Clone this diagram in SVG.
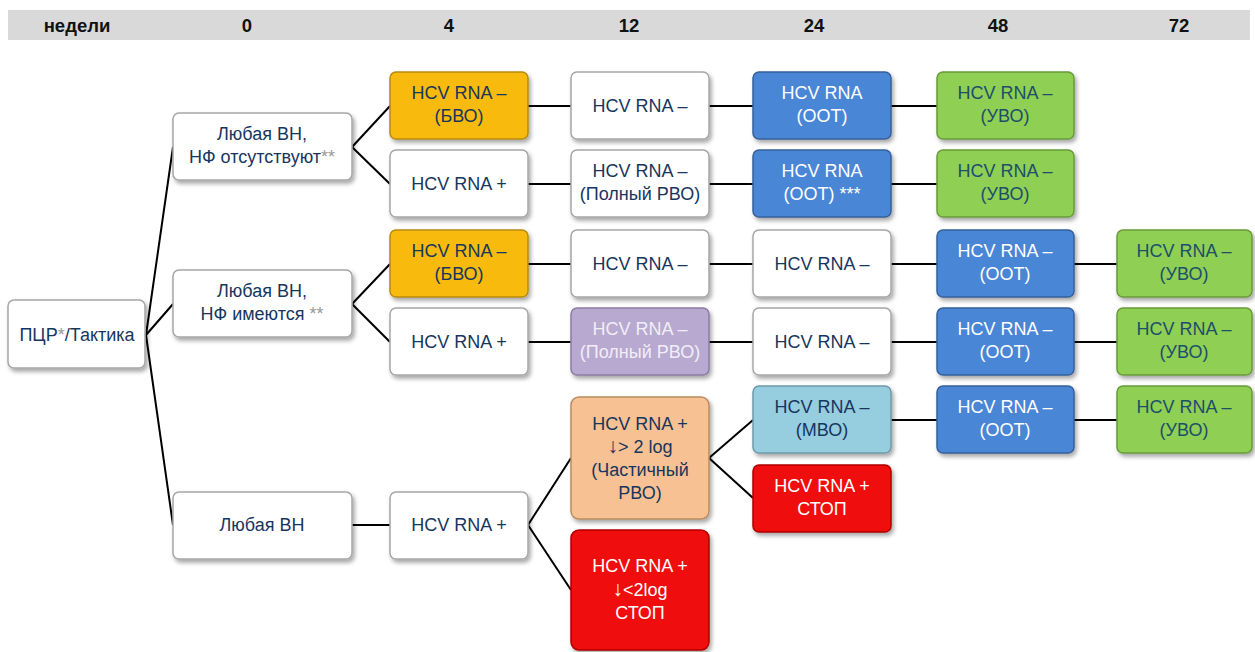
<svg xmlns="http://www.w3.org/2000/svg" width="1255" height="652" viewBox="0 0 1255 652">
<defs>
<filter id="sh" x="-10%" y="-10%" width="125%" height="130%">
<feDropShadow dx="2" dy="3" stdDeviation="2" flood-color="#000" flood-opacity="0.35"/>
</filter>
<style>
.n{filter:url(#sh);stroke-width:1.5}
.w{fill:#ffffff;stroke:#a6a6a6}
.o{fill:#f8bb0a;stroke:#b88a10}
.b{fill:#4a86d6;stroke:#35609a}
.g{fill:#8fcf52;stroke:#6a9a3a}
.p{fill:#b7a9cf;stroke:#8a7ca3}
.lb{fill:#96cddf;stroke:#6c9aaa}
.pe{fill:#f8c193;stroke:#b88c60}
.r{fill:#f00808;stroke:#b00000}
text{font-family:"Liberation Sans",Arial,sans-serif;font-size:18px;text-anchor:middle}
.t{fill:#17365d}
.tw{fill:#ffffff}
.tg{fill:#1d4e6b}
.tp{fill:#f2eef8}
.st{fill:#9a9a9a}
.ar{font-size:21px}
.h{font-weight:bold;font-size:18.5px;fill:#111}
.c{stroke:#000;stroke-width:2;fill:none}
</style>
</defs>
<rect width="1255" height="652" fill="#ffffff"/>
<g id="header">
<rect x="8" y="10" width="1242" height="30" fill="#d9d9d9"/>
<text class="h" x="77" y="32">недели</text>
<text class="h" x="247" y="32">0</text>
<text class="h" x="449" y="32">4</text>
<text class="h" x="629" y="32">12</text>
<text class="h" x="814" y="32">24</text>
<text class="h" x="998" y="32">48</text>
<text class="h" x="1179" y="32">72</text>
</g>
<g id="connectors">
<path class="c" d="M146 335 L173 147 M146 335 L173 304 M146 335 L173 525"/>
<path class="c" d="M352 147 L390 106 M352 147 L390 184"/>
<path class="c" d="M352 304 L390 264 M352 304 L390 342"/>
<path class="c" d="M352 525 L390 525"/>
<path class="c" d="M528 525 L571 458 M528 525 L571 590"/>
<path class="c" d="M709 458 L753 420 M709 458 L753 498"/>
<path class="c" d="M528 106 L571 106 M709 106 L753 106 M891 106 L937 106"/>
<path class="c" d="M528 184 L571 184 M709 184 L753 184 M891 184 L937 184"/>
<path class="c" d="M528 264 L571 264 M709 264 L753 264 M891 264 L937 264 M1074 264 L1117 264"/>
<path class="c" d="M528 342 L571 342 M709 342 L753 342 M891 342 L937 342 M1074 342 L1117 342"/>
<path class="c" d="M891 420 L937 420 M1074 420 L1117 420"/>
</g>
<g id="root"><rect class="n w" x="8" y="300" width="137" height="68" rx="6"/><text class="t" x="77" y="341">ПЦР<tspan class="st">*</tspan>/Тактика</text></g>
<g id="a1"><rect class="n w" x="173" y="113" width="179" height="67" rx="6"/><text class="t" x="262" y="140">Любая ВН,</text><text class="t" x="262" y="163">НФ отсутствуют<tspan class="st">**</tspan></text></g>
<g id="a2"><rect class="n w" x="173" y="270" width="179" height="67" rx="6"/><text class="t" x="262" y="297">Любая ВН,</text><text class="t" x="262" y="320">НФ имеются <tspan class="st">**</tspan></text></g>
<g id="a3"><rect class="n w" x="173" y="492" width="179" height="67" rx="6"/><text class="t" x="262" y="531">Любая ВН</text></g>
<g id="w4r1"><rect class="n o" x="390" y="72" width="138" height="67" rx="6"/><text class="t" x="459" y="99">HCV RNA –</text><text class="t" x="459" y="122">(БВО)</text></g>
<g id="w4r2"><rect class="n w" x="390" y="150" width="138" height="67" rx="6"/><text class="t" x="459" y="190">HCV RNA +</text></g>
<g id="w4r3"><rect class="n o" x="390" y="230" width="138" height="67" rx="6"/><text class="t" x="459" y="257">HCV RNA –</text><text class="t" x="459" y="280">(БВО)</text></g>
<g id="w4r4"><rect class="n w" x="390" y="308" width="138" height="67" rx="6"/><text class="t" x="459" y="348">HCV RNA +</text></g>
<g id="w4r5"><rect class="n w" x="390" y="492" width="138" height="67" rx="6"/><text class="t" x="459" y="531">HCV RNA +</text></g>
<g id="w12r1"><rect class="n w" x="571" y="72" width="138" height="67" rx="6"/><text class="t" x="640" y="112">HCV RNA –</text></g>
<g id="w12r2"><rect class="n w" x="571" y="150" width="138" height="67" rx="6"/><text class="t" x="640" y="177">HCV RNA –</text><text class="t" x="640" y="200">(Полный РВО)</text></g>
<g id="w12r3"><rect class="n w" x="571" y="230" width="138" height="67" rx="6"/><text class="t" x="640" y="270">HCV RNA –</text></g>
<g id="w12r4"><rect class="n p" x="571" y="308" width="138" height="67" rx="6"/><text class="tp" x="640" y="335">HCV RNA –</text><text class="tp" x="640" y="358">(Полный РВО)</text></g>
<g id="w12r5"><rect class="n pe" x="571" y="397" width="138" height="122" rx="8"/><text class="t" x="640" y="430">HCV RNA +</text><text class="t" x="640" y="453"><tspan class="ar">↓</tspan>&gt; 2 log</text><text class="t" x="640" y="476">(Частичный</text><text class="t" x="640" y="499">РВО)</text></g>
<g id="w12r6"><rect class="n r" x="571" y="530" width="138" height="120" rx="8"/><text class="tw" x="640" y="572">HCV RNA +</text><text class="tw" x="640" y="596"><tspan class="ar">↓</tspan>&lt;2log</text><text class="tw" x="640" y="619">СТОП</text></g>
<g id="w24r1"><rect class="n b" x="753" y="72" width="138" height="67" rx="6"/><text class="tw" x="822" y="99">HCV RNA</text><text class="tw" x="822" y="122">(OOT)</text></g>
<g id="w24r2"><rect class="n b" x="753" y="150" width="138" height="67" rx="6"/><text class="tw" x="822" y="177">HCV RNA</text><text class="tw" x="822" y="200">(OOT) ***</text></g>
<g id="w24r3"><rect class="n w" x="753" y="230" width="138" height="67" rx="6"/><text class="t" x="822" y="270">HCV RNA –</text></g>
<g id="w24r4"><rect class="n w" x="753" y="308" width="138" height="67" rx="6"/><text class="t" x="822" y="348">HCV RNA –</text></g>
<g id="w24r5"><rect class="n lb" x="753" y="386" width="138" height="67" rx="6"/><text class="t" x="822" y="413">HCV RNA –</text><text class="t" x="822" y="436">(МВО)</text></g>
<g id="w24r6"><rect class="n r" x="753" y="465" width="138" height="67" rx="6"/><text class="tw" x="822" y="492">HCV RNA +</text><text class="tw" x="822" y="515">СТОП</text></g>
<g id="w48r1"><rect class="n g" x="937" y="72" width="137" height="67" rx="6"/><text class="tg" x="1005" y="99">HCV RNA –</text><text class="tg" x="1005" y="122">(УВО)</text></g>
<g id="w48r2"><rect class="n g" x="937" y="150" width="137" height="67" rx="6"/><text class="tg" x="1005" y="177">HCV RNA –</text><text class="tg" x="1005" y="200">(УВО)</text></g>
<g id="w48r3"><rect class="n b" x="937" y="230" width="137" height="67" rx="6"/><text class="tw" x="1005" y="257">HCV RNA –</text><text class="tw" x="1005" y="280">(OOT)</text></g>
<g id="w48r4"><rect class="n b" x="937" y="308" width="137" height="67" rx="6"/><text class="tw" x="1005" y="335">HCV RNA –</text><text class="tw" x="1005" y="358">(OOT)</text></g>
<g id="w48r5"><rect class="n b" x="937" y="386" width="137" height="67" rx="6"/><text class="tw" x="1005" y="413">HCV RNA –</text><text class="tw" x="1005" y="436">(OOT)</text></g>
<g id="w72r3"><rect class="n g" x="1117" y="230" width="135" height="67" rx="6"/><text class="tg" x="1184" y="257">HCV RNA –</text><text class="tg" x="1184" y="280">(УВО)</text></g>
<g id="w72r4"><rect class="n g" x="1117" y="308" width="135" height="67" rx="6"/><text class="tg" x="1184" y="335">HCV RNA –</text><text class="tg" x="1184" y="358">(УВО)</text></g>
<g id="w72r5"><rect class="n g" x="1117" y="386" width="135" height="67" rx="6"/><text class="tg" x="1184" y="413">HCV RNA –</text><text class="tg" x="1184" y="436">(УВО)</text></g>
</svg>
